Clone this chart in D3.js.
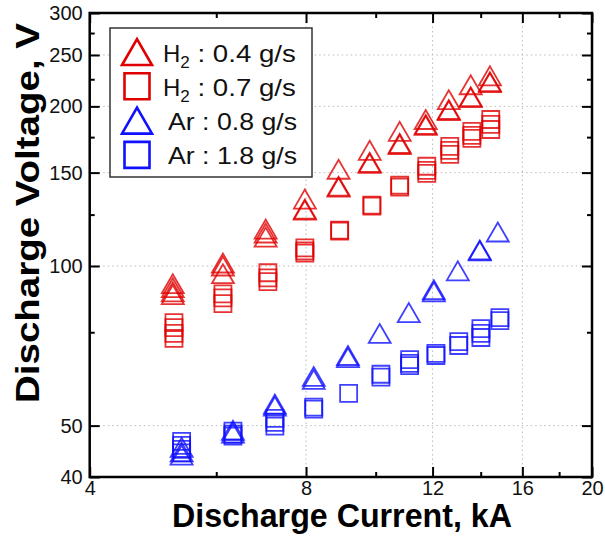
<!DOCTYPE html>
<html><head><meta charset="utf-8">
<script src="https://cdn.jsdelivr.net/npm/d3@7"></script>
<style>
html,body{margin:0;padding:0;background:#fff;}
svg{display:block;font-family:"Liberation Sans",Arial,sans-serif;}
</style></head>
<body><svg id="chart" width="605" height="539"></svg>
<script>
// ---- data ----
const xMajorTicks = [4, 8, 12, 16, 20];
const xMinorTicks = [6, 10, 14, 18];
const yMajorTicks = [40, 50, 100, 150, 200, 250, 300];
const yMinorTicks = [75, 125, 175, 225, 275];
const xGrid = [8, 12, 16];
const yGrid = [50, 100, 150, 200, 250];

const seriesNames = ["H2 : 0.4 g/s", "H2 : 0.7 g/s", "Ar : 0.8 g/s", "Ar : 1.8 g/s"];

const h2LowCurrent = [5.22, 6.13, 7.03, 7.97, 8.88, 9.81, 10.80, 11.74, 12.64, 13.56, 14.42];
const h2LowVoltage = [
  [92.6, 91.0, 89.4, 88.3],
  [101.3, 100.0, 96.7],
  [117.4, 115.4, 113.4],
  [133.7, 128.0, 127.5],
  [152.2, 141.4, 140.8],
  [165.2, 156.8, 156.2],
  [179.4, 170.3, 169.5],
  [188.9, 184.9, 184.1],
  [205.9, 197.3, 196.4],
  [219.7, 208.6, 207.7],
  [228.4, 222.6, 221.7]
];

const h2HighCurrent = [5.24, 6.13, 7.08, 7.97, 8.91, 9.88, 10.80, 11.78, 12.68, 13.61, 14.46];
const h2HighVoltage = [
  [78.2, 76.5, 74.6, 73.0],
  [88.6, 87.1, 84.9],
  [97.1, 95.0, 93.4],
  [108.2, 106.8, 105.8],
  [116.9, 116.4],
  [130.3, 129.7],
  [142.0, 140.8],
  [154.2, 151.5, 149.5],
  [168.1, 165.2, 162.4],
  [179.4, 176.3, 174.0],
  [188.9, 184.9, 180.9]
];

const arLowCurrent = [5.37, 6.33, 7.24, 8.20, 9.15, 10.13, 11.12, 12.05, 13.01, 13.96, 14.79];
const arLowVoltage = [
  [45.5, 44.6, 44.0],
  [49.0, 48.4],
  [54.9, 54.4],
  [61.9, 61.1],
  [67.8, 67.2],
  [74.6],
  [81.7],
  [90.2, 89.4],
  [97.9],
  [107.2, 106.8],
  [115.9]
];

const arHighCurrent = [5.37, 6.33, 7.24, 8.20, 9.17, 10.17, 11.15, 12.13, 13.05, 14.01, 14.89];
const arHighVoltage = [
  [46.7, 45.9, 45.1, 44.4],
  [48.8, 48.2, 47.8],
  [51.6, 50.7, 49.9],
  [54.2, 53.7],
  [57.5],
  [62.5, 61.7],
  [66.6, 65.5, 64.9],
  [68.4, 67.8],
  [72.0, 70.8],
  [76.2, 74.6, 73.3],
  [79.9, 78.9]
];

// ---- drawing ----
const RED = "#e00000", BLUE = "#1010ff";
const svg = d3.select("#chart");
const L = 89.7, R = 592, T = 13, B = 477;
const x = d3.scaleLog().domain([4, 20]).range([L, R]);
const y = d3.scaleLog().domain([40, 300]).range([B, T]);

// grid
const grid = svg.append("g").attr("stroke", "#bbb").attr("stroke-width", 1).attr("stroke-dasharray", "1.5,3");
grid.selectAll("line.vx").data(xGrid).join("line")
  .attr("x1", d => x(d)).attr("x2", d => x(d)).attr("y1", T).attr("y2", B);
grid.selectAll("line.hy").data(yGrid).join("line")
  .attr("y1", d => y(d)).attr("y2", d => y(d)).attr("x1", L).attr("x2", R);

// marker helpers
function triPath(cx, cy, w, h) {
  return `M${cx - w / 2},${cy + h / 2}L${cx},${cy - h / 2}L${cx + w / 2},${cy + h / 2}Z`;
}
function sqPath(cx, cy, w, h) {
  return `M${cx - w / 2},${cy - h / 2}h${w}v${h}h${-w}Z`;
}
function flatten(cur, volt) {
  const out = [];
  cur.forEach((c, i) => volt[i].forEach(v => out.push({ c, v })));
  return out;
}
const marks = svg.append("g").attr("fill", "none").attr("stroke-width", 1.8).attr("stroke-opacity", 0.8);
function drawSeries(cur, volt, shape, color) {
  marks.append("g").attr("stroke", color).selectAll("path").data(flatten(cur, volt)).join("path")
    .attr("d", d => shape === "tri" ? triPath(x(d.c), y(d.v), 22, 19) : sqPath(x(d.c), y(d.v), 17, 17));
}
drawSeries(h2HighCurrent, h2HighVoltage, "sq", RED);
drawSeries(h2LowCurrent, h2LowVoltage, "tri", RED);
drawSeries(arHighCurrent, arHighVoltage, "sq", BLUE);
drawSeries(arLowCurrent, arLowVoltage, "tri", BLUE);

// axes (ticks inward on all four sides)
const fmt = d3.format("d");
function addAxis(gen, tx, ty) {
  const g = svg.append("g").attr("transform", `translate(${tx},${ty})`).call(gen);
  g.select(".domain").remove();
  g.selectAll(".tick line").attr("stroke", "#000").attr("stroke-width", 2);
  g.selectAll("text").attr("font-size", 20).attr("fill", "#111").attr("font-family", "Liberation Sans, Arial, sans-serif");
  return g;
}
const xb = addAxis(d3.axisBottom(x).tickValues(xMajorTicks).tickSizeInner(-10).tickSizeOuter(0).tickPadding(4).tickFormat(fmt), 0, B);
xb.selectAll("text").attr("dy", "0.71em").attr("y", 4);
addAxis(d3.axisBottom(x).tickValues(xMinorTicks).tickSizeInner(-5).tickSizeOuter(0).tickFormat(""), 0, B);
addAxis(d3.axisTop(x).tickValues(xMajorTicks).tickSizeInner(-10).tickSizeOuter(0).tickFormat(""), 0, T);
addAxis(d3.axisTop(x).tickValues(xMinorTicks).tickSizeInner(-5).tickSizeOuter(0).tickFormat(""), 0, T);
const yl = addAxis(d3.axisLeft(y).tickValues(yMajorTicks).tickSizeInner(-10).tickSizeOuter(0).tickPadding(8).tickFormat(fmt), L, 0);
yl.selectAll("text").attr("x", -7);
addAxis(d3.axisLeft(y).tickValues(yMinorTicks).tickSizeInner(-5).tickSizeOuter(0).tickFormat(""), L, 0);
addAxis(d3.axisRight(y).tickValues(yMajorTicks).tickSizeInner(-10).tickSizeOuter(0).tickFormat(""), R, 0);
addAxis(d3.axisRight(y).tickValues(yMinorTicks).tickSizeInner(-5).tickSizeOuter(0).tickFormat(""), R, 0);

// frame
svg.append("rect").attr("x", L).attr("y", T).attr("width", R - L).attr("height", B - T)
  .attr("fill", "none").attr("stroke", "#000").attr("stroke-width", 2.5);

// axis titles
svg.append("text").attr("x", 342).attr("y", 527).attr("text-anchor", "middle")
  .attr("font-size", 33).attr("font-weight", "bold").attr("fill", "#000")
  .attr("textLength", 340).attr("lengthAdjust", "spacingAndGlyphs").text("Discharge Current, kA");
svg.append("text").attr("transform", `translate(39,213) rotate(-90)`).attr("text-anchor", "middle")
  .attr("font-size", 34).attr("font-weight", "bold").attr("fill", "#000")
  .attr("textLength", 380).attr("lengthAdjust", "spacingAndGlyphs").text("Discharge Voltage, V");

// legend
const lg = svg.append("g");
lg.append("rect").attr("x", 110).attr("y", 28).attr("width", 202).attr("height", 149)
  .attr("fill", "#fff").attr("stroke", "#333").attr("stroke-width", 1.5);
const legendItems = [
  { shape: "tri", color: RED }, { shape: "sq", color: RED },
  { shape: "tri", color: BLUE }, { shape: "sq", color: BLUE }
];
legendItems.forEach((it, i) => {
  const cy = 52 + i * 34.3;
  lg.append("path").attr("d", it.shape === "tri" ? triPath(137, cy, 30, 26) : sqPath(137, cy, 25, 26))
    .attr("fill", "none").attr("stroke", it.color).attr("stroke-width", 2.6);
  const name = seriesNames[i];
  const t = lg.append("text").attr("y", cy + 9.5).attr("font-size", 24).attr("fill", "#111");
  if (name.startsWith("H2")) {
    t.attr("x", 163);
    t.append("tspan").text("H");
    t.append("tspan").attr("font-size", 17).attr("dy", 6).text("2");
    t.append("tspan").attr("dy", -6).attr("textLength", 106).attr("lengthAdjust", "spacingAndGlyphs").text(name.slice(2));
  } else {
    t.attr("x", 168).attr("textLength", 129).attr("lengthAdjust", "spacingAndGlyphs").text(name);
  }
});
</script>
</body></html>
